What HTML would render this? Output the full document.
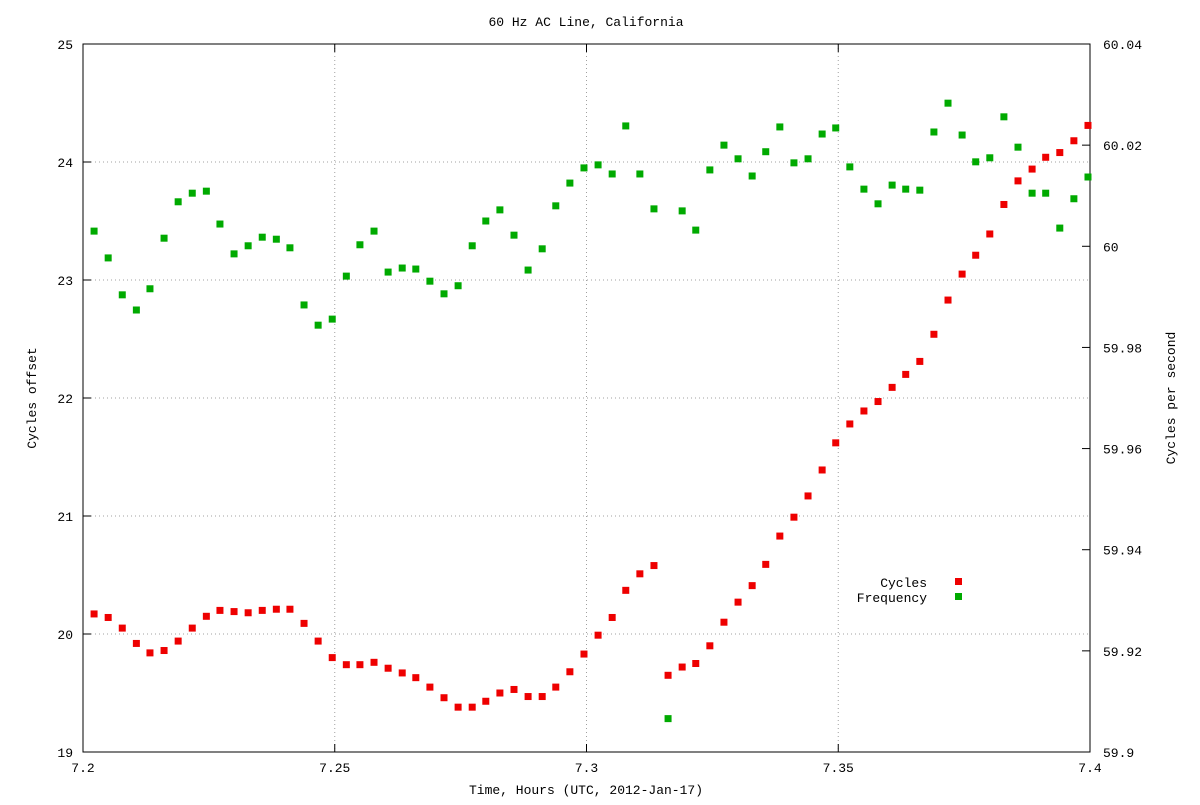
<!DOCTYPE html>
<html><head><meta charset="utf-8">
<style>
body{margin:0;background:#fff;}
svg text{font-family:"Liberation Mono","DejaVu Sans Mono",monospace;font-size:13px;fill:#000;}
</style></head>
<body>
<svg id="chart" width="1200" height="800" xmlns="http://www.w3.org/2000/svg">
<rect x="0" y="0" width="1200" height="800" fill="#fff"/>
<g id="grid"></g>
<g id="axes"></g>
<g id="marks"></g>
<text x="586" y="26" text-anchor="middle">60 Hz AC Line, California</text>
<text x="586" y="794" text-anchor="middle">Time, Hours (UTC, 2012-Jan-17)</text>
<text transform="translate(36,398) rotate(-90)" text-anchor="middle">Cycles offset</text>
<text transform="translate(1175,398) rotate(-90)" text-anchor="middle">Cycles per second</text>
<g>
<text x="927" y="587" text-anchor="end">Cycles</text>
<rect x="955" y="578" width="7" height="7" fill="#e41a1c" style="fill:#ee0000"/>
<text x="927" y="602" text-anchor="end">Frequency</text>
<rect x="955" y="593" width="7" height="7" fill="#00aa00"/>
</g>
</svg>
<script>
const times=[7.2022,7.2050,7.2078,7.2106,7.2133,7.2161,7.2189,7.2217,7.2245,7.2272,7.2300,7.2328,7.2356,7.2384,7.2411,7.2439,7.2467,7.2495,7.2523,7.2550,7.2578,7.2606,7.2634,7.2661,7.2689,7.2717,7.2745,7.2773,7.2800,7.2828,7.2856,7.2884,7.2912,7.2939,7.2967,7.2995,7.3023,7.3051,7.3078,7.3106,7.3134,7.3162,7.3190,7.3217,7.3245,7.3273,7.3301,7.3329,7.3356,7.3384,7.3412,7.3440,7.3468,7.3495,7.3523,7.3551,7.3579,7.3607,7.3634,7.3662,7.3690,7.3718,7.3746,7.3773,7.3801,7.3829,7.3857,7.3885,7.3912,7.3940,7.3968,7.3996];
const cycles=[20.17,20.14,20.05,19.92,19.84,19.86,19.94,20.05,20.15,20.20,20.19,20.18,20.20,20.21,20.21,20.09,19.94,19.80,19.74,19.74,19.76,19.71,19.67,19.63,19.55,19.46,19.38,19.38,19.43,19.50,19.53,19.47,19.47,19.55,19.68,19.83,19.99,20.14,20.37,20.51,20.58,19.65,19.72,19.75,19.90,20.10,20.27,20.41,20.59,20.83,20.99,21.17,21.39,21.62,21.78,21.89,21.97,22.09,22.20,22.31,22.54,22.83,23.05,23.21,23.39,23.64,23.84,23.94,24.04,24.08,24.18,24.31];
const freq=[60.0030,59.9977,59.9904,59.9874,59.9916,60.0016,60.0088,60.0105,60.0109,60.0044,59.9985,60.0001,60.0018,60.0014,59.9997,59.9884,59.9844,59.9856,59.9941,60.0003,60.0030,59.9949,59.9957,59.9955,59.9931,59.9906,59.9922,60.0001,60.0050,60.0072,60.0022,59.9953,59.9995,60.0080,60.0125,60.0155,60.0161,60.0143,60.0238,60.0143,60.0074,59.9066,60.0070,60.0032,60.0151,60.0200,60.0173,60.0139,60.0187,60.0236,60.0165,60.0173,60.0222,60.0234,60.0157,60.0113,60.0084,60.0121,60.0113,60.0111,60.0226,60.0283,60.0220,60.0167,60.0175,60.0256,60.0196,60.0105,60.0105,60.0036,60.0094,60.0137];
const xTicks=["7.2","7.25","7.3","7.35","7.4"];
const yLeftTicks=["19","20","21","22","23","24","25"];
const yRightTicks=["59.9","59.92","59.94","59.96","59.98","60","60.02","60.04"];

const L=83,R=1090,T=44,B=752;
const X=v=>L+(v-7.2)/0.2*(R-L);
const YL=v=>B-(v-19)/6*(B-T);
const YR=v=>B-(v-59.9)/0.14*(B-T);
const NS="http://www.w3.org/2000/svg";
function mk(tag,attrs,parent){const e=document.createElementNS(NS,tag);for(const k in attrs)e.setAttribute(k,attrs[k]);parent.appendChild(e);return e;}
const grid=document.getElementById('grid'),axes=document.getElementById('axes'),marks=document.getElementById('marks');

xTicks.forEach(t=>{const v=parseFloat(t),x=X(v);
 if(x>L+1&&x<R-1){const g=mk('line',{x1:x,x2:x,y1:T,y2:B,stroke:'#a0a0a0','stroke-dasharray':'1,3'},grid);
 
 }
 mk('line',{x1:x,x2:x,y1:B,y2:B-8,stroke:'#000'},axes);
 mk('line',{x1:x,x2:x,y1:T,y2:T+8,stroke:'#000'},axes);
 const tx=mk('text',{x:x,y:B+20,'text-anchor':'middle'},axes);tx.textContent=t;
 
 
});
yLeftTicks.forEach(t=>{const y=YL(parseFloat(t));
 if(y>T+1&&y<B-1){const g=mk('line',{x1:L,x2:R,y1:y,y2:y,stroke:'#a0a0a0','stroke-dasharray':'1,3'},grid);
 
 }
 mk('line',{x1:L,x2:L+8,y1:y,y2:y,stroke:'#000'},axes);
 const tx=mk('text',{x:73,y:y+5,'text-anchor':'end'},axes);tx.textContent=t;
 
 
});
yRightTicks.forEach(t=>{const y=YR(parseFloat(t));
 mk('line',{x1:R,x2:R-8,y1:y,y2:y,stroke:'#000'},axes);
 const tx=mk('text',{x:1103,y:y+5,'text-anchor':'start'},axes);tx.textContent=t;
 
 
});
const fr=mk('rect',{x:L,y:T,width:R-L,height:B-T,fill:'none',stroke:'#000'},axes);



times.forEach((t,i)=>{
 const r=mk('rect',{x:X(t)-3.5,y:YL(cycles[i])-3.5,width:7,height:7,fill:'#ee0000'},marks);
 
 
 const g=mk('rect',{x:X(t)-3.5,y:YR(freq[i])-3.5,width:7,height:7,fill:'#00aa00'},marks);
 
 
});
</script>
</body></html>
